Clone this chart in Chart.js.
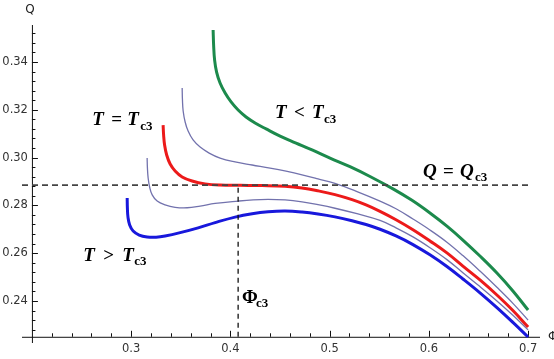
<!DOCTYPE html>
<html>
<head>
<meta charset="utf-8">
<script src="https://cdn.jsdelivr.net/npm/chart.js@4"></script>
<style>
  html, body { margin: 0; padding: 0; background: #fff; }
  #wrap { width: 554px; height: 359px; }
</style>
</head>
<body>
<div id="wrap"><canvas id="chart" width="554" height="359"></canvas></div>
<script>
// curves: phi (x) and Q (y)
const greenPhi = [0.3826, 0.3831, 0.3841, 0.3861, 0.3896, 0.3947, 0.4007, 0.4078, 0.4158, 0.4249, 0.4360, 0.4501, 0.4662, 0.4823, 0.5004, 0.5205, 0.5407, 0.5639, 0.5830, 0.6011, 0.6182, 0.6343, 0.6515, 0.6686, 0.6847, 0.7000];
const greenQ   = [0.3534, 0.3471, 0.3408, 0.3358, 0.3312, 0.3270, 0.3233, 0.3199, 0.3170, 0.3145, 0.3120, 0.3090, 0.3061, 0.3032, 0.2998, 0.2962, 0.2921, 0.2869, 0.2821, 0.2768, 0.2713, 0.2655, 0.2588, 0.2517, 0.2442, 0.2362];

const upperPhi = [0.3514, 0.3517, 0.3524, 0.3544, 0.3574, 0.3624, 0.3695, 0.3786, 0.3896, 0.4047, 0.4219, 0.4400, 0.4561, 0.4722, 0.4883, 0.5054, 0.5276, 0.5508, 0.5669, 0.5840, 0.6011, 0.6182, 0.6343, 0.6515, 0.6686, 0.6847, 0.7000];
const upperQ   = [0.3291, 0.3241, 0.3195, 0.3149, 0.3111, 0.3074, 0.3044, 0.3019, 0.2998, 0.2982, 0.2969, 0.2956, 0.2943, 0.2928, 0.2911, 0.2892, 0.2858, 0.2818, 0.2786, 0.2743, 0.2697, 0.2646, 0.2590, 0.2525, 0.2457, 0.2390, 0.2320];

const redPhi = [0.3322, 0.3327, 0.3337, 0.3358, 0.3393, 0.3443, 0.3514, 0.3614, 0.3745, 0.3896, 0.4098, 0.4319, 0.4551, 0.4722, 0.4883, 0.5054, 0.5226, 0.5367, 0.5508, 0.5669, 0.5840, 0.6011, 0.6182, 0.6343, 0.6515, 0.6686, 0.6847, 0.7000];
const redQ   = [0.3136, 0.3095, 0.3053, 0.3011, 0.2973, 0.2944, 0.2919, 0.2902, 0.2890, 0.2885, 0.2884, 0.2883, 0.2880, 0.2873, 0.2861, 0.2845, 0.2824, 0.2802, 0.2775, 0.2740, 0.2698, 0.2651, 0.2601, 0.2546, 0.2488, 0.2425, 0.2360, 0.2291];

const lowerPhi = [0.3161, 0.3164, 0.3171, 0.3186, 0.3212, 0.3262, 0.3342, 0.3443, 0.3564, 0.3695, 0.3846, 0.4078, 0.4229, 0.4380, 0.4551, 0.4722, 0.4883, 0.5054, 0.5276, 0.5508, 0.5669, 0.5840, 0.6011, 0.6182, 0.6343, 0.6515, 0.6686, 0.6847, 0.7000];
const lowerQ   = [0.2998, 0.2956, 0.2915, 0.2877, 0.2844, 0.2818, 0.2802, 0.2792, 0.2790, 0.2797, 0.2808, 0.2818, 0.2823, 0.2825, 0.2823, 0.2815, 0.2803, 0.2788, 0.2765, 0.2737, 0.2706, 0.2668, 0.2623, 0.2573, 0.2518, 0.2460, 0.2400, 0.2340, 0.2279];

const bluePhi = [0.2960, 0.2962, 0.2968, 0.2985, 0.3020, 0.3081, 0.3161, 0.3252, 0.3342, 0.3494, 0.3675, 0.3846, 0.4047, 0.4219, 0.4380, 0.4551, 0.4722, 0.4883, 0.5054, 0.5226, 0.5367, 0.5508, 0.5669, 0.5840, 0.6011, 0.6182, 0.6343, 0.6515, 0.6686, 0.6847, 0.7000];
const blueQ   = [0.2831, 0.2789, 0.2751, 0.2718, 0.2693, 0.2676, 0.2668, 0.2667, 0.2672, 0.2686, 0.2706, 0.2728, 0.2751, 0.2765, 0.2773, 0.2776, 0.2772, 0.2764, 0.2752, 0.2736, 0.2720, 0.2700, 0.2672, 0.2636, 0.2593, 0.2544, 0.2492, 0.2434, 0.2372, 0.2310, 0.2249];

const qCrit = 0.2885;
const phiCrit = 0.4078;

const xTicks = [0.3, 0.4, 0.5, 0.6, 0.7];
const yTicks = [0.24, 0.26, 0.28, 0.30, 0.32, 0.34];
const xOrigin = 0.2;
const yOrigin = 0.225;

function pts(xs, ys) {
    return xs.map((v, i) => ({ x: v, y: ys[i] }));
}

function curve(xs, ys, color, width) {
    return {
        data: pts(xs, ys),
        borderColor: color,
        borderWidth: width,
        pointRadius: 0,
        showLine: true,
        fill: false,
        tension: 0.4
    };
}

// axes drawn the Mathematica way: crossing lines with inward ticks
const axesPlugin = {
    id: 'mathAxes',
    beforeDatasetsDraw(chart) {
        const { ctx, scales: { x, y } } = chart;
        const ax = x.getPixelForValue(xOrigin);
        const ay = y.getPixelForValue(yOrigin);
        ctx.save();
        ctx.strokeStyle = '#111';
        ctx.lineWidth = 1;
        ctx.beginPath();
        ctx.moveTo(x.left, ay + 0.5);
        ctx.lineTo(x.right, ay + 0.5);
        ctx.moveTo(ax + 0.5, y.top);
        ctx.lineTo(ax + 0.5, y.bottom);
        // x ticks every 0.02
        for (let i = 11; i <= 35; i++) {
            const px = Math.round(x.getPixelForValue(i * 0.02)) + 0.5;
            const len = i % 5 === 0 ? 6 : 3.5;
            ctx.moveTo(px, ay);
            ctx.lineTo(px, ay - len);
        }
        // y ticks every 0.004
        for (let i = 57; i <= 88; i++) {
            const py = Math.round(y.getPixelForValue(i * 0.004)) + 0.5;
            const len = i % 5 === 0 ? 6 : 3.5;
            ctx.moveTo(ax, py);
            ctx.lineTo(ax + len, py);
        }
        ctx.stroke();

        ctx.fillStyle = '#333';
        ctx.font = '11.5px "DejaVu Sans"';
        ctx.textAlign = 'center';
        ctx.textBaseline = 'middle';
        xTicks.forEach(v => ctx.fillText(v.toFixed(1), x.getPixelForValue(v), ay + 12));
        ctx.textAlign = 'right';
        yTicks.forEach(v => ctx.fillText(v.toFixed(2), ax - 4, y.getPixelForValue(v)));

        ctx.fillStyle = '#222';
        ctx.textAlign = 'center';
        ctx.font = '12px "DejaVu Sans"';
        ctx.fillText('Q', ax - 2, 10);
        ctx.textAlign = 'left';
        ctx.fillText('Φ', x.right + 8, ay);
        ctx.restore();
    }
};

const bi = 'italic bold 19px "Liberation Serif"';
const bd = 'bold 19px "Liberation Serif"';
const sb = 'bold 13px "Liberation Serif"';

const labels = [
    { phi: 0.2607, q: 0.3136, parts: [['T', bi, 0, 0], ['=', bd, 19, 0], ['T', bi, 35, 0], ['c3', sb, 48, 5]] },
    { phi: 0.4450, q: 0.3166, parts: [['T', bi, 0, 0], ['<', bd, 19, 0], ['T', bi, 37, 0], ['c3', sb, 49, 5]] },
    { phi: 0.2517, q: 0.2567, parts: [['T', bi, 0, 0], ['>', bd, 20, 0], ['T', bi, 39, 0], ['c3', sb, 51, 4]] },
    { phi: 0.5941, q: 0.2919, parts: [['Q', bi, 0, 0], ['=', bd, 20, 0], ['Q', bi, 37, 0], ['c3', sb, 52, 4]] },
    { phi: 0.4118, q: 0.2392, parts: [['Φ', bd, 0, 0], ['c3', sb, 14, 4]] }
];

const labelPlugin = {
    id: 'curveLabels',
    afterDraw(chart) {
        const { ctx, scales: { x, y } } = chart;
        ctx.save();
        ctx.fillStyle = '#000';
        ctx.textAlign = 'left';
        ctx.textBaseline = 'alphabetic';
        labels.forEach(l => {
            const px = x.getPixelForValue(l.phi);
            const py = y.getPixelForValue(l.q);
            l.parts.forEach(([t, f, dx, dy]) => {
                ctx.font = f;
                ctx.fillText(t, px + dx, py + dy);
            });
        });
        ctx.restore();
    }
};

new Chart(document.getElementById('chart').getContext('2d'), {
    type: 'scatter',
    data: {
        datasets: [
            {
                data: [{ x: 0.19, y: qCrit }, { x: 0.7, y: qCrit }],
                borderColor: '#444', borderWidth: 1.6, borderDash: [6, 4],
                pointRadius: 0, showLine: true
            },
            {
                data: [{ x: phiCrit, y: yOrigin }, { x: phiCrit, y: qCrit }],
                borderColor: '#111', borderWidth: 1.3, borderDash: [5, 4],
                pointRadius: 0, showLine: true
            },
            curve(greenPhi, greenQ, '#1c8a4c', 3),
            curve(upperPhi, upperQ, '#7272ad', 1.3),
            curve(redPhi, redQ, '#ec1a1a', 3),
            curve(lowerPhi, lowerQ, '#7272ad', 1.3),
            curve(bluePhi, blueQ, '#1818dc', 3)
        ]
    },
    options: {
        responsive: false,
        animation: false,
        devicePixelRatio: 1,
        layout: { padding: { left: 22, right: 14, top: 25, bottom: 16 } },
        plugins: { legend: { display: false }, tooltip: { enabled: false } },
        scales: {
            x: { type: 'linear', min: 0.19, max: 0.712, display: false },
            y: { type: 'linear', min: 0.2224, max: 0.3555, display: false }
        }
    },
    plugins: [axesPlugin, labelPlugin]
});
</script>
</body>
</html>
